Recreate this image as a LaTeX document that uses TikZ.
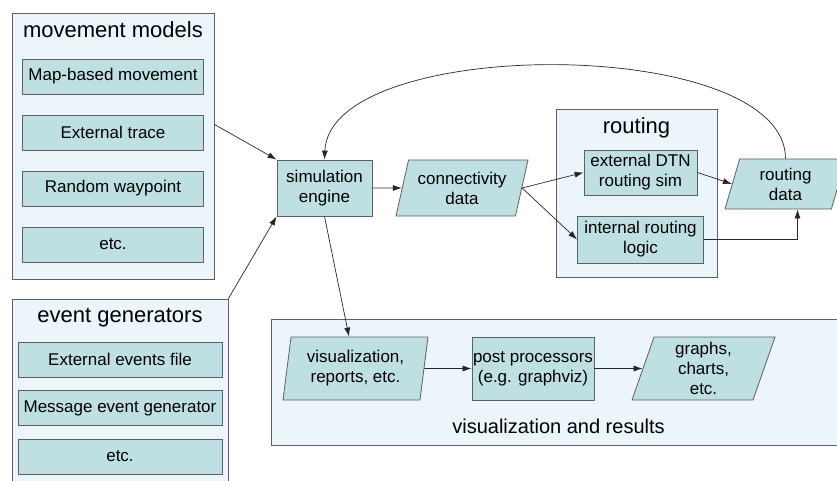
\documentclass[tikz,border=0pt]{standalone}
\usepackage{fontspec}
\setmainfont{Liberation Sans}
\usepackage{tikz}
\usetikzlibrary{shapes.geometric}
\usetikzlibrary{positioning}
\usetikzlibrary{arrows.meta}
\definecolor{linegray}{RGB}{95,95,95}
\definecolor{groupblue}{RGB}{236,245,250}
\definecolor{procteal}{RGB}{190,224,227}
\tikzstyle{group} = [rectangle, draw=linegray, fill=groupblue, line width=0.8pt, inner sep=0pt]
\tikzstyle{grouptitle} = [font=\fontsize{22}{26}\selectfont, inner sep=0pt]
\tikzstyle{process} = [rectangle, draw=linegray, fill=procteal, line width=0.8pt, inner sep=1pt, align=center, font=\fontsize{17}{20}\selectfont]
\tikzstyle{data} = [trapezium, trapezium stretches body, trapezium left angle=70, trapezium right angle=110, draw=linegray, fill=procteal, line width=0.8pt, inner sep=1pt, align=center, font=\fontsize{17}{20}\selectfont]
\tikzstyle{arrow} = [line width=0.7pt, draw=black!85, ->, >={Latex[length=9pt,width=6pt]}]

\begin{document}
\begin{tikzpicture}[x=1pt, y=1pt, node distance=56pt]
        \clip (0,0) rectangle (837,480);
        \node (sim) [process, minimum width=95pt, minimum height=56pt] at (324.5,292) {simulation\\engine};
        \node (conn) [data, minimum width=132pt, minimum height=56pt, right of=sim, xshift=81.5pt] {connectivity\\data};

        % movement models
        \node (movement) [group, minimum width=202pt, minimum height=266pt, left of=sim, xshift=-155.5pt, yshift=42pt] {};
        \node (movement_title) [grouptitle, above of=movement, yshift=60pt] {movement models};
        \node (map_based) [process, minimum width=181pt, minimum height=35pt, below of=movement_title, yshift=9.5pt] {Map-based movement};
        \node (ext_trace) [process, minimum width=181pt, minimum height=35pt, below of=map_based] {External trace};
        \node (random_wp) [process, minimum width=181pt, minimum height=35pt, below of=ext_trace] {Random waypoint};
        \node (movement_etc) [process, minimum width=181pt, minimum height=35pt, below of=random_wp] {etc.};

        % event generators
        \node (events) [group, minimum width=216pt, minimum height=191pt, below of=movement, xshift=7pt, yshift=-192.5pt] {};
        \node (events_title) [grouptitle, above of=events, yshift=20.5pt] {event generators};
        \node (ext_events) [process, minimum width=204pt, minimum height=35pt, below of=events_title, yshift=14.5pt] {External events file};
        \node (msg_gen) [process, minimum width=204pt, minimum height=35pt, below of=ext_events, yshift=7.5pt] {Message event generator};
        \node (events_etc) [process, minimum width=204pt, minimum height=35pt, below of=msg_gen, yshift=7.5pt] {etc.};

        % routing
        \node (routing) [group, minimum width=161pt, minimum height=168pt, right of=conn, xshift=118.5pt, yshift=-5pt] {};
        \node (routing_title) [grouptitle, above of=routing, yshift=9pt] {routing};
        \node (ext_dtn) [process, minimum width=113pt, minimum height=45pt, below of=routing_title, xshift=4pt, yshift=11.5pt] {external DTN\\routing sim};
        \node (int_logic) [process, minimum width=126pt, minimum height=47pt, below of=ext_dtn, yshift=-11pt] {internal routing\\logic};
        \node (routing_data) [data, trapezium left angle=67, trapezium right angle=113, minimum width=121pt, minimum height=50pt, right of=ext_dtn, xshift=89pt, yshift=-11.5pt] {routing\\data};

        % visualization and results
        \node (results) [group, minimum width=575pt, minimum height=126pt, below of=sim, xshift=234pt, yshift=-138pt] {};
        \node (results_title) [grouptitle, font=\fontsize{20}{24}\selectfont, below of=results, yshift=12pt] {visualization and results};
        \node (vis) [data, trapezium left angle=78, trapezium right angle=102, minimum width=145pt, minimum height=63pt, below of=sim, xshift=31pt, yshift=-124.5pt] {visualization,\\reports, etc.};
        \node (post) [process, minimum width=120pt, minimum height=63pt, right of=vis, xshift=121.5pt] {post processors\\(e.g. graphviz)};
        \node (graphs) [data, trapezium left angle=68, trapezium right angle=112, minimum width=143pt, minimum height=63pt, right of=post, xshift=114.5pt] {graphs,\\charts,\\etc.};

        \draw [arrow] (movement.12) -- (sim.north west);
        \draw [arrow] (events.north east) -- (sim.south west);
        \draw [arrow] (sim) -- (conn);
        \draw [arrow] (conn.east) -- (ext_dtn.west);
        \draw [arrow] (conn.east) -- (int_logic.west);
        \draw [arrow] (ext_dtn.east) -- (routing_data.west);
        \draw [arrow] (int_logic.east) -| ([xshift=12pt]routing_data.south);
        \draw [arrow] (routing_data.north) .. controls +(0,124) and +(5,125) .. (sim.north);
        \draw [arrow] (sim.south) -- (vis);
        \draw [arrow] (vis) -- (post);
        \draw [arrow] (post) -- (graphs);
    \end{tikzpicture}
\end{document}
